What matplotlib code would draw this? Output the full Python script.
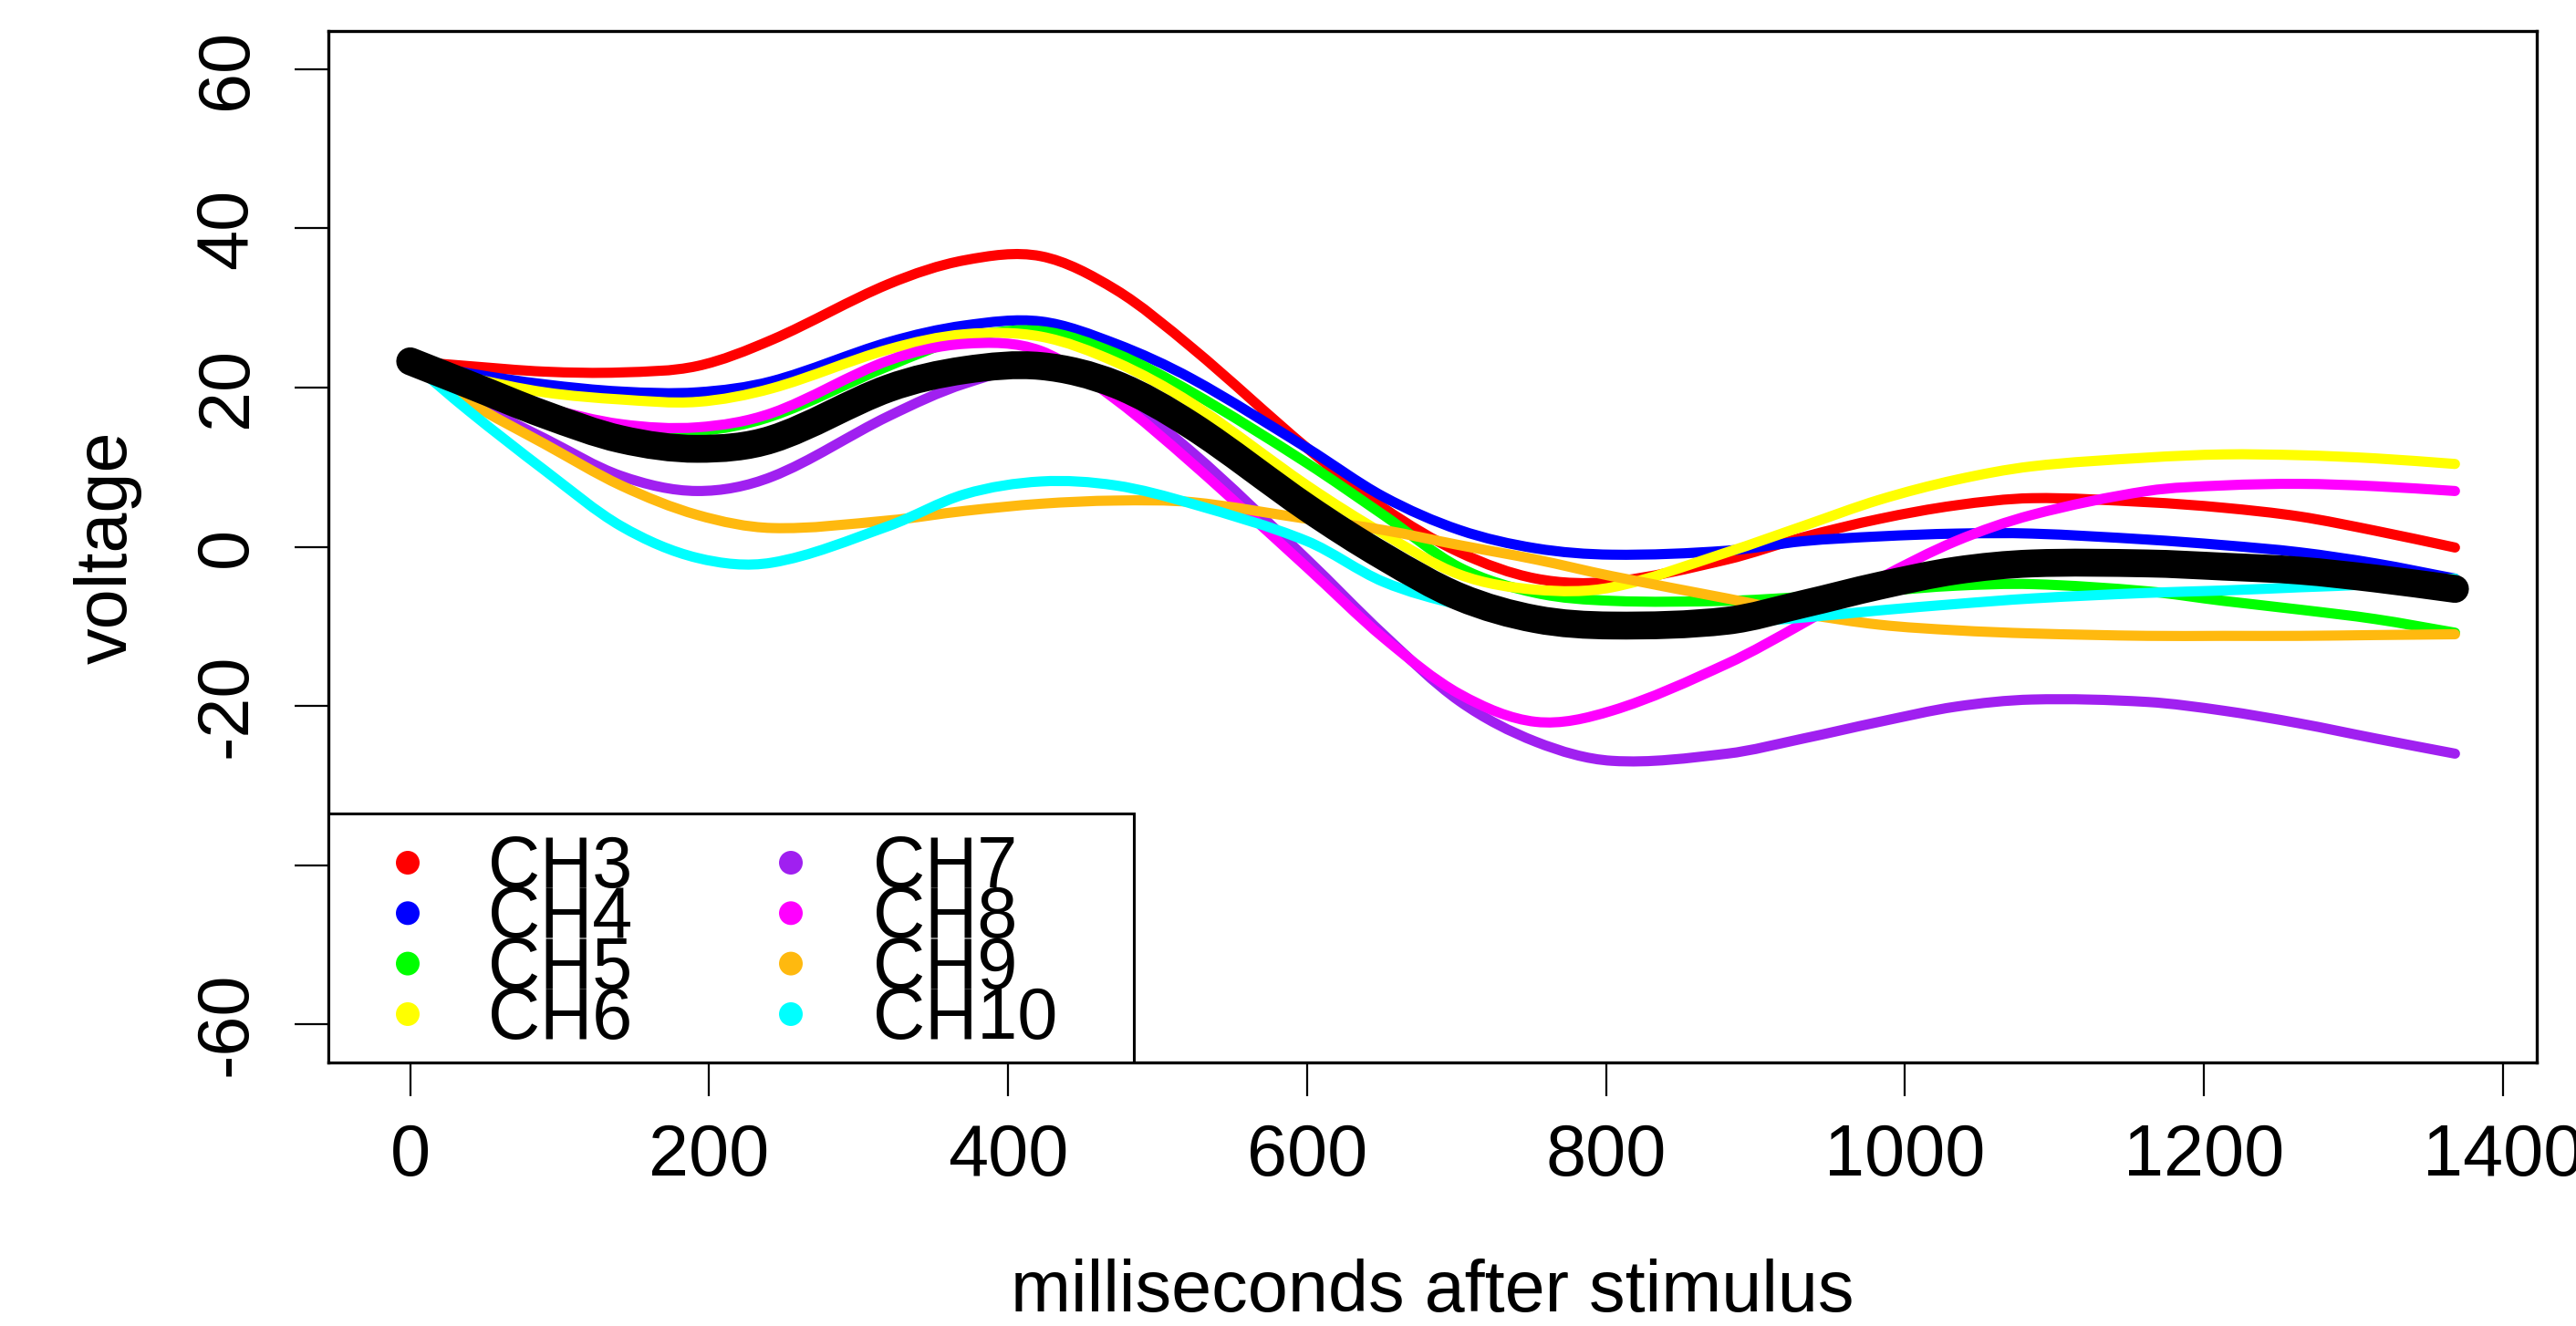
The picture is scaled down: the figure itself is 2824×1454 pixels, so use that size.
import matplotlib
matplotlib.use("Agg")
import matplotlib.pyplot as plt
from matplotlib.patches import Rectangle, PathPatch
from matplotlib.path import Path

plt.rcParams['font.family'] = ['Liberation Sans', 'DejaVu Sans']
plt.rcParams['axes.unicode_minus'] = False

# time points (ms after stimulus)
ms = [0, 39, 90, 141, 192, 242, 320, 371, 422, 472, 523, 600, 651,
      702, 753, 804, 881, 932, 983, 1034, 1085, 1162, 1213, 1264, 1315, 1368]

ch3 = [23.3, 22.7, 22.0, 21.9, 22.7, 26.0, 33.0, 36.0, 36.5, 32.3, 25.0, 12.4, 4.9,
       -0.7, -4.0, -4.4, -1.6, 1.2, 3.5, 5.2, 6.1, 5.6, 4.9, 3.8, 2.0, -0.1]
ch4 = [23.3, 21.8, 20.4, 19.5, 19.4, 20.8, 25.7, 27.8, 28.3, 25.5, 21.1, 12.4, 6.3,
       2.1, -0.2, -1.0, -0.5, 0.7, 1.3, 1.65, 1.65, 0.9, 0.2, -0.7, -2.1, -4.0]
ch5 = [23.3, 20.5, 16.8, 14.7, 14.5, 16.4, 22.7, 26.2, 27.1, 24.3, 19.4, 10.5, 4.0,
       -2.6, -5.8, -6.8, -6.8, -6.3, -5.6, -4.9, -4.7, -5.6, -6.8, -7.9, -9.1, -10.8]
ch6 = [23.3, 21.3, 19.4, 18.5, 18.2, 19.9, 24.8, 26.7, 26.4, 23.2, 18.0, 7.7, 1.65,
       -3.5, -5.4, -5.1, -0.7, 2.6, 5.9, 8.4, 10.1, 11.2, 11.6, 11.5, 11.1, 10.4]
ch7 = [23.3, 18.5, 13.6, 8.9, 7.0, 8.8, 16.4, 20.5, 22.5, 19.0, 11.9, -1.6, -11.0,
       -19.4, -24.5, -26.9, -26.0, -24.1, -22.0, -20.1, -19.2, -19.5, -20.6, -22.2, -24.1, -26.0]
ch8 = [23.3, 20.3, 17.5, 15.4, 15.0, 16.8, 23.4, 25.5, 24.6, 18.5, 10.5, -2.6, -11.4,
       -18.5, -22.0, -20.6, -14.7, -9.6, -4.0, 0.7, 4.0, 7.0, 7.7, 7.9, 7.6, 7.0]
ch9 = [23.3, 18.2, 12.9, 7.7, 4.0, 2.35, 3.3, 4.5, 5.4, 5.8, 5.6, 3.5, 2.1,
       0.2, -1.6, -3.7, -6.5, -8.4, -9.8, -10.5, -10.9, -11.2, -11.2, -11.2, -11.1, -11.0]
ch10 = [23.3, 17.1, 9.6, 2.6, -1.4, -2.0, 2.6, 6.6, 8.2, 7.7, 5.4, 0.7, -4.4,
        -7.3, -9.0, -9.9, -9.6, -8.9, -8.0, -7.2, -6.5, -5.8, -5.5, -5.1, -4.7, -4.0]
mean_curve = [23.3, 20.4, 16.6, 13.5, 12.3, 13.5, 19.9, 22.2, 22.7, 20.4, 15.2, 4.9, -1.2,
              -6.3, -9.1, -9.9, -9.3, -7.2, -4.9, -3.0, -2.1, -2.1, -2.5, -3.0, -4.0, -5.3]

labels = ["CH3", "CH4", "CH5", "CH6", "CH7", "CH8", "CH9", "CH10"]
colors = ["#FF0000", "#0000FF", "#00FF00", "#FFFF00", "#A020F0", "#FF00FF", "#FFB90F", "#00FFFF"]
series = [ch3, ch4, ch5, ch6, ch7, ch8, ch9, ch10]

xticks = [0, 200, 400, 600, 800, 1000, 1200, 1400]
yticks = [-60, -40, -20, 0, 20, 40, 60]
ytick_labels = ["-60", "", "-20", "0", "20", "40", "60"]


def smooth_path(xs, ys):
    """Bezier path through the data points (cubic Hermite segments)."""
    n = len(xs)
    slopes = []
    for i in range(n):
        if i == 0:
            m = (ys[1] - ys[0]) / (xs[1] - xs[0])
        elif i == n - 1:
            m = (ys[-1] - ys[-2]) / (xs[-1] - xs[-2])
        else:
            m = (ys[i + 1] - ys[i - 1]) / (xs[i + 1] - xs[i - 1])
        slopes.append(m)
    verts = [(xs[0], ys[0])]
    codes = [Path.MOVETO]
    for i in range(n - 1):
        h = (xs[i + 1] - xs[i]) / 3.0
        verts += [(xs[i] + h, ys[i] + slopes[i] * h),
                  (xs[i + 1] - h, ys[i + 1] - slopes[i + 1] * h),
                  (xs[i + 1], ys[i + 1])]
        codes += [Path.CURVE4] * 3
    return Path(verts, codes)


W, H = 2824, 1454
fig = plt.figure(figsize=(W / 100, H / 100), dpi=100)
L, R, T, B = 360, 2781, 34, 1165
ax = fig.add_axes([L / W, 1 - B / H, (R - L) / W, (B - T) / H])

for ys, c in zip(series, colors):
    ax.add_patch(PathPatch(smooth_path(ms, ys), fill=False, edgecolor=c, lw=8,
                           capstyle='round', joinstyle='round'))
ax.add_patch(PathPatch(smooth_path(ms, mean_curve), fill=False, edgecolor='black', lw=22,
                       capstyle='round', joinstyle='round'))

xmax = ms[-1]
ax.set_xlim(-0.04 * xmax, 1.04 * xmax)
ax.set_ylim(-64.8, 64.8)

fs = 57
ax.set_xticks(xticks)
ax.set_xticklabels([str(v) for v in xticks], fontsize=fs)
ax.set_yticks(yticks)
ax.set_yticklabels(ytick_labels, fontsize=fs, rotation=90, va='center')
ax.tick_params(axis='both', length=26.6, width=1.6, color='black')
ax.tick_params(axis='x', pad=21)
ax.tick_params(axis='y', pad=26)
for sp in ax.spines.values():
    sp.set_linewidth(2.4)

# axis titles
fig.text(((L + R) / 2) / W, 1 - 1438 / H, "milliseconds after stimulus", fontsize=fs,
         ha='center', va='baseline')
fig.text(118 / W, 1 - 600 / H, "voltage", fontsize=fs, rotation=90, ha='center', va='center')

# legend (bottom-left, two columns)
ax.add_patch(Rectangle((0, 0), (1243 - L) / (R - L), (B - 892) / (B - T), transform=ax.transAxes,
                       facecolor='white', edgecolor='black', lw=2.2, zorder=10))
dot_x = [(447 - L) / (R - L), (867 - L) / (R - L)]
txt_x = [(535 - L) / (R - L), (957 - L) / (R - L)]
row_center = [946, 1001.3, 1056.6, 1112]
row_base = [973, 1028.3, 1083.6, 1139]
for i, (lab, c) in enumerate(zip(labels, colors)):
    col, row = divmod(i, 4)
    ax.scatter([dot_x[col]], [(B - row_center[row]) / (B - T)], s=350, color=c,
               transform=ax.transAxes, zorder=11, edgecolors='none', clip_on=False)
    ax.text(txt_x[col], (B - row_base[row]) / (B - T), lab, fontsize=fs, transform=ax.transAxes,
            ha='left', va='baseline', zorder=12)

fig.savefig("out.png", dpi=100)
